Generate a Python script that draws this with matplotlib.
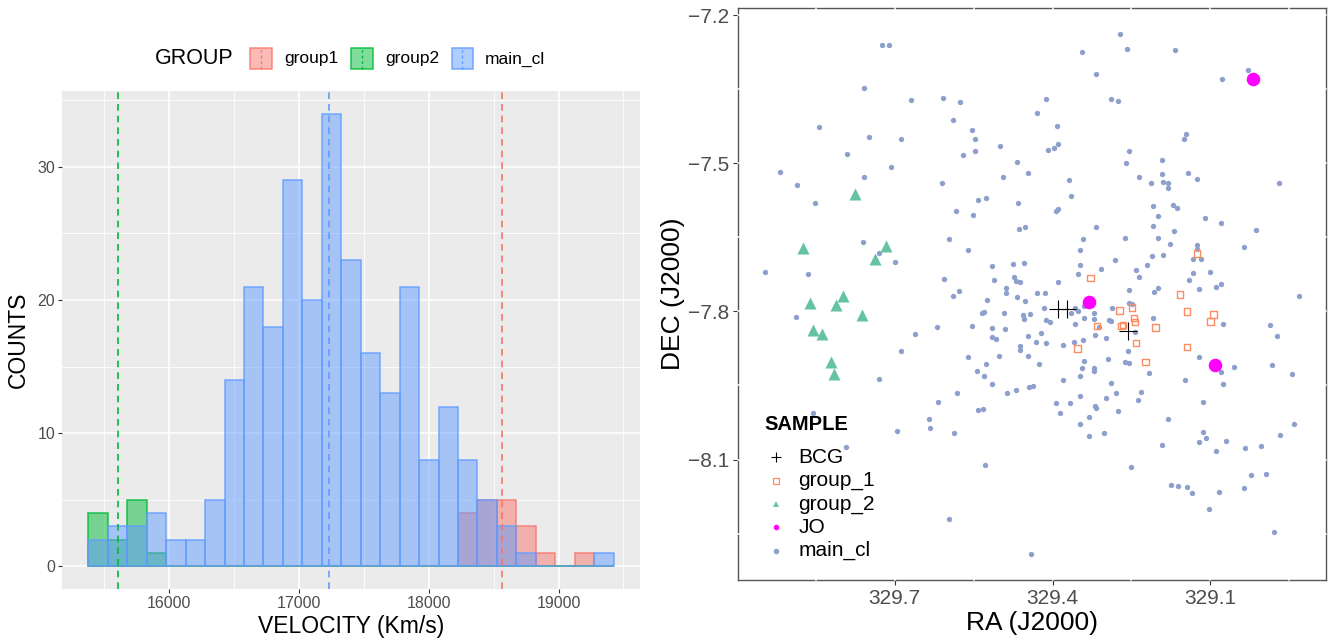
import matplotlib
matplotlib.use("Agg")
import matplotlib.pyplot as plt
from matplotlib.patches import Rectangle
from matplotlib.lines import Line2D

plt.rcParams['font.family'] = ['Liberation Sans', 'DejaVu Sans']

# ---------------- histogram data ----------------
BIN_START = 15375
BIN_WIDTH = 150
hist_groups = ['group1', 'group2', 'main_cl']
group1_counts = [0, 0, 0, 0, 0, 0, 0, 0, 0, 0, 0, 0, 0, 0, 0, 0, 0, 0, 0,
                 4, 5, 5, 3, 1, 0, 1, 0]
group2_counts = [4, 2, 5, 1, 0, 0, 0, 0, 0, 0, 0, 0, 0, 0, 0, 0, 0, 0, 0,
                 0, 0, 0, 0, 0, 0, 0, 0]
main_counts = [2, 3, 3, 4, 2, 2, 5, 14, 21, 18, 29, 20, 34, 23, 16, 13, 21, 8,
               12, 8, 5, 3, 1, 0, 0, 0, 1]
vline_values = [18565, 15602, 17230]   # group1, group2, main_cl
x_ticks_hist = [16000, 17000, 18000, 19000]
y_ticks_hist = [0, 10, 20, 30]

# ---------------- scatter data ----------------
main_ra = [329.725, 329.711, 329.758, 329.670, 329.609, 329.575, 329.844, 329.590, 329.554, 329.547,
           329.748, 329.688, 329.499, 329.791, 329.570, 329.548, 329.919, 329.759, 329.708, 329.886,
           329.611, 329.851, 329.541, 329.526, 329.584, 329.551, 329.272, 329.343, 329.258, 329.167,
           329.317, 329.028, 329.078, 329.412, 329.288, 329.275, 329.430, 329.391, 329.146, 329.150,
           329.390, 329.408, 329.397, 329.254, 329.261, 329.192, 329.467, 329.494, 329.446, 329.369,
           329.191, 329.142, 329.235, 329.212, 329.190, 329.181, 329.180, 329.125, 328.970, 329.364,
           329.465, 329.393, 329.389, 329.208, 329.171, 329.163, 329.199, 329.111, 329.761, 329.729,
           329.699, 329.947, 329.865, 329.888, 329.662, 329.689, 329.730, 329.464, 329.452, 329.318,
           329.597, 329.561, 329.342, 329.348, 329.515, 329.475, 329.455, 329.348, 329.606, 329.512,
           329.474, 329.470, 329.462, 329.352, 329.389, 329.577, 329.590, 329.489, 329.488, 329.430,
           329.414, 329.467, 329.524, 329.452, 329.534, 329.531, 329.492, 329.457, 329.454, 329.443,
           329.416, 329.365, 329.357, 329.351, 329.341, 329.321, 329.322, 329.340, 329.619, 329.553,
           329.516, 329.490, 329.412, 329.404, 329.357, 329.311, 329.319, 329.446, 329.421, 329.516,
           329.507, 329.431, 329.413, 329.381, 329.360, 329.342, 329.461, 329.461, 329.561, 329.502,
           329.446, 329.340, 329.527, 329.426, 329.343, 329.321, 329.322, 329.543, 329.531, 329.347,
           329.381, 329.516, 329.445, 329.438, 329.582, 329.487, 329.469, 329.348, 329.618, 329.394,
           329.367, 329.319, 329.317, 329.541, 329.533, 329.385, 329.330, 329.209, 329.169, 329.080,
           329.013, 329.263, 329.200, 329.177, 329.126, 329.126, 329.133, 329.118, 329.036, 329.210,
           329.189, 329.281, 329.307, 329.221, 329.241, 329.236, 329.132, 329.101, 329.140, 329.200,
           329.207, 329.255, 329.121, 329.089, 329.079, 328.931, 329.286, 329.255, 329.249, 329.293,
           329.288, 329.209, 329.076, 328.987, 328.973, 329.299, 329.243, 329.256, 329.295, 329.263,
           329.255, 329.121, 329.079, 329.054, 328.982, 328.944, 329.216, 329.076, 329.148, 329.288,
           329.279, 329.231, 329.299, 329.238, 329.113, 329.276, 329.181, 329.856, 329.793, 329.695,
           329.634, 329.632, 329.588, 329.528, 329.597, 328.940, 328.967, 329.122, 329.113, 329.108,
           329.070, 329.192, 329.089, 329.034, 329.004, 329.250, 329.022, 328.994, 329.174, 329.161,
           329.145, 329.135, 329.084, 329.035, 329.102, 328.978, 329.440, 329.348, 329.331, 329.303]
main_dec = [-7.261, -7.261, -7.348, -7.371, -7.367, -7.376, -7.427, -7.413, -7.433, -7.450,
            -7.447, -7.451, -7.465, -7.482, -7.483, -7.476, -7.518, -7.528, -7.508, -7.543,
            -7.540, -7.580, -7.574, -7.571, -7.596, -7.605, -7.239, -7.275, -7.268, -7.271,
            -7.319, -7.310, -7.330, -7.369, -7.370, -7.373, -7.398, -7.425, -7.441, -7.451,
            -7.460, -7.474, -7.469, -7.476, -7.499, -7.493, -7.497, -7.528, -7.520, -7.534,
            -7.521, -7.519, -7.528, -7.540, -7.538, -7.540, -7.551, -7.532, -7.540, -7.567,
            -7.580, -7.596, -7.592, -7.586, -7.584, -7.590, -7.606, -7.610, -7.660, -7.681,
            -7.700, -7.720, -7.724, -7.812, -7.845, -7.880, -7.936, -7.633, -7.629, -7.629,
            -7.654, -7.676, -7.654, -7.676, -7.708, -7.703, -7.702, -7.706, -7.734, -7.736,
            -7.730, -7.739, -7.740, -7.724, -7.740, -7.758, -7.769, -7.753, -7.763, -7.763,
            -7.763, -7.771, -7.776, -7.778, -7.803, -7.801, -7.803, -7.808, -7.815, -7.805,
            -7.794, -7.804, -7.794, -7.800, -7.788, -7.804, -7.815, -7.814, -7.831, -7.830,
            -7.834, -7.836, -7.817, -7.821, -7.825, -7.831, -7.847, -7.849, -7.843, -7.852,
            -7.855, -7.861, -7.864, -7.869, -7.861, -7.858, -7.871, -7.879, -7.892, -7.891,
            -7.891, -7.900, -7.907, -7.906, -7.914, -7.914, -7.921, -7.920, -7.930, -7.930,
            -7.939, -7.946, -7.953, -7.951, -7.965, -7.966, -7.960, -7.971, -7.983, -7.986,
            -7.985, -7.992, -7.996, -8.000, -7.998, -8.006, -8.013, -7.627, -7.637, -7.621,
            -7.635, -7.652, -7.651, -7.664, -7.666, -7.673, -7.693, -7.693, -7.670, -7.687,
            -7.686, -7.695, -7.714, -7.706, -7.716, -7.730, -7.722, -7.720, -7.736, -7.752,
            -7.760, -7.757, -7.755, -7.751, -7.744, -7.769, -7.793, -7.782, -7.784, -7.817,
            -7.819, -7.813, -7.825, -7.827, -7.850, -7.854, -7.841, -7.881, -7.896, -7.902,
            -7.905, -7.893, -7.922, -7.912, -7.909, -7.927, -7.924, -7.947, -7.938, -7.944,
            -7.965, -7.963, -7.975, -7.979, -7.983, -8.002, -8.017, -8.005, -8.075, -8.042,
            -8.018, -8.037, -8.046, -8.112, -8.221, -8.028, -8.051, -8.065, -8.045, -8.056,
            -8.062, -8.070, -8.083, -8.076, -8.073, -8.116, -8.132, -8.129, -8.152, -8.153,
            -8.155, -8.168, -8.165, -8.157, -8.200, -8.246, -8.291, -8.029, -8.052, -8.047]
group1_ra = [329.328, 329.352, 329.315, 329.125, 329.158, 329.273, 329.249, 329.144, 329.094,
             329.100, 329.245, 329.243, 329.204, 329.269, 329.266, 329.241, 329.144, 329.223]
group1_dec = [-7.732, -7.875, -7.830, -7.683, -7.766, -7.798, -7.792, -7.800, -7.806,
              -7.820, -7.813, -7.821, -7.833, -7.830, -7.827, -7.864, -7.872, -7.902]
group2_ra = [329.775, 329.874, 329.716, 329.737, 329.862, 329.799, 329.812, 329.762,
             329.855, 329.838, 329.822, 329.815]
group2_dec = [-7.563, -7.672, -7.667, -7.693, -7.782, -7.769, -7.787, -7.808,
              -7.837, -7.845, -7.903, -7.926]
jo_ra = [329.018, 329.331, 329.092]
jo_dec = [-7.330, -7.780, -7.909]
bcg_ra = [329.390, 329.372, 329.257]
bcg_dec = [-7.796, -7.796, -7.840]
sample_labels = ['BCG', 'group_1', 'group_2', 'JO', 'main_cl']
ra_ticks = [329.7, 329.4, 329.1]
dec_ticks = [-7.2, -7.5, -7.8, -8.1]

# ---------------- figure ----------------
W, H = 1333, 640
fig = plt.figure(figsize=(W / 100, H / 100), dpi=100)

def fx(px):
    return px / W

def fy(py):
    return 1 - py / H

hist_cols = {'group1': '#F8766D', 'group2': '#00BA38', 'main_cl': '#619CFF'}
tick_col = '#4D4D4D'

# ---- left histogram ----
axh = fig.add_axes([fx(62), fy(589), fx(640) - fx(62), fy(91) - fy(589)])
axh.set_facecolor('#EBEBEB')
edges = [BIN_START + BIN_WIDTH * i for i in range(len(main_counts))]
for name, counts in zip(hist_groups, [group1_counts, group2_counts, main_counts]):
    c = hist_cols[name]
    axh.bar(edges, counts, width=BIN_WIDTH, align='edge', color=c, alpha=0.5,
            linewidth=0, zorder=2)
    axh.bar(edges, counts, width=BIN_WIDTH, align='edge', fill=False,
            edgecolor=c, alpha=0.85, linewidth=1.1, zorder=2)
for name, v in zip(hist_groups, vline_values):
    axh.axvline(v, color=hist_cols[name], linestyle=(0, (4, 3)), linewidth=1.2, zorder=3)

axh.set_xlim(15172.5, 19627.5)
axh.set_ylim(-1.7, 35.7)
axh.set_xticks(x_ticks_hist)
axh.set_yticks(y_ticks_hist)
axh.set_xticks([15500, 16500, 17500, 18500, 19500], minor=True)
axh.set_yticks([5, 15, 25, 35], minor=True)
axh.grid(which='major', color='white', linewidth=1.2)
axh.grid(which='minor', color='white', linewidth=0.6)
axh.set_axisbelow(True)
for s in axh.spines.values():
    s.set_visible(False)
axh.tick_params(which='major', length=3, width=0.8, color='#333333',
                labelsize=11.5, labelcolor=tick_col, pad=2)
axh.tick_params(which='minor', length=0)
axh.set_xlabel('VELOCITY (Km/s)', fontsize=16.5, labelpad=3)
axh.set_ylabel('COUNTS', fontsize=16.5, labelpad=5)

# left legend (top)
fig.text(fx(155), fy(59), 'GROUP', fontsize=15.5, va='center', ha='left')
box_x = [250, 351.3, 451.7]
lab_x = [284, 385, 485]
for name, bx, lx in zip(hist_groups, box_x, lab_x):
    c = hist_cols[name]
    fig.add_artist(Rectangle((fx(bx), fy(69.3)), fx(21.5), fy(48.3) - fy(69.3),
                             transform=fig.transFigure, facecolor=c, alpha=0.5,
                             edgecolor='none'))
    fig.add_artist(Rectangle((fx(bx), fy(69.3)), fx(21.5), fy(48.3) - fy(69.3),
                             transform=fig.transFigure, fill=False, edgecolor=c,
                             alpha=0.85, linewidth=1.1))
    fig.add_artist(Line2D([fx(bx + 10.75)] * 2, [fy(69.3), fy(48.3)],
                          transform=fig.transFigure, color=c, linestyle=(0, (2, 2)),
                          linewidth=1.0))
    fig.text(fx(lx), fy(59), name, fontsize=12.5, va='center', ha='left')

# ---- right scatter ----
axs = fig.add_axes([fx(738), fy(580), fx(1326) - fx(738), fy(8.3) - fy(580)])
axs.set_facecolor('white')
axs.scatter(main_ra, main_dec, s=15, color='#8DA0CB', linewidths=0, zorder=4)
axs.scatter(group1_ra, group1_dec, s=22, marker='s', facecolors='none',
            edgecolors='#FC8D62', linewidths=1.0, zorder=5)
axs.scatter(group2_ra, group2_dec, s=75, marker='^', color='#66C2A5',
            linewidths=0, zorder=5)
axs.scatter(jo_ra, jo_dec, s=95, color='#FF00FF', linewidths=0, zorder=6)
axs.scatter(bcg_ra, bcg_dec, s=150, marker='+', color='black', linewidths=0.8,
            zorder=7)
axs.set_xlim(329.998, 328.880)
axs.set_ylim(-8.344, -7.186)
axs.set_xticks(ra_ticks)
axs.set_xticklabels([f'{v:.1f}' for v in ra_ticks])
axs.set_yticks(dec_ticks)
axs.set_yticklabels([f'{v:.1f}'.replace('-', '\u2212') for v in dec_ticks])
for s in axs.spines.values():
    s.set_color('#555555')
    s.set_linewidth(1.0)
# white grid lines that break the border like the reference
for v in [329.85, 329.7, 329.55, 329.4, 329.25, 329.1, 328.95]:
    axs.axvline(v, color='white', linewidth=1.1, zorder=3, clip_on=False)
for v in [-7.2, -7.35, -7.5, -7.65, -7.8, -7.95, -8.1, -8.25]:
    axs.axhline(v, color='white', linewidth=1.1, zorder=3, clip_on=False)
axs.tick_params(length=3.5, width=0.8, color='#333333', labelsize=15,
                labelcolor=tick_col, pad=3)
axs.set_xlabel('RA (J2000)', fontsize=19, labelpad=2)
axs.set_ylabel('DEC (J2000)', fontsize=19, labelpad=2)

# right legend (inside, lower left)
fig.text(fx(764.3), fy(425), 'SAMPLE', fontsize=14.5, fontweight='bold',
         va='center', ha='left')
leg_y = [457.3, 480.7, 504, 527.3, 550.7]
leg_styles = [dict(marker='+', color='black', markersize=7, markeredgewidth=0.8),
              dict(marker='s', color='none', markeredgecolor='#FC8D62',
                   markersize=4.2, markeredgewidth=0.9),
              dict(marker='^', color='#66C2A5', markersize=5, markeredgewidth=0),
              dict(marker='o', color='#FF00FF', markersize=4, markeredgewidth=0),
              dict(marker='o', color='#8DA0CB', markersize=4, markeredgewidth=0)]
for lab, yy, st in zip(sample_labels, leg_y, leg_styles):
    fig.add_artist(Line2D([fx(776)], [fy(yy)], transform=fig.transFigure,
                          linestyle='none', **st))
    fig.text(fx(798.3), fy(yy), lab, fontsize=15, va='center', ha='left')

fig.savefig('out.png', dpi=100)
